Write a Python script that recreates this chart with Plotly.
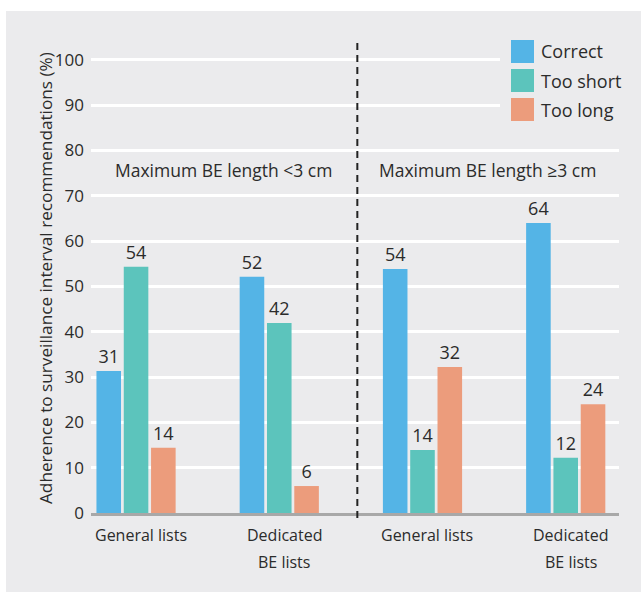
import plotly.graph_objects as go

categories = ["General lists", "Dedicated\nBE lists", "General lists", "Dedicated\nBE lists"]
series_names = ["Correct", "Too short", "Too long"]
correct = [31.3, 52.1, 53.8, 64.0]
too_short = [54.3, 41.9, 13.9, 12.2]
too_long = [14.4, 5.95, 32.2, 24.0]
value_labels = [[31, 52, 54, 64], [54, 42, 14, 12], [14, 6, 32, 24]]
panel_titles = ["Maximum BE length <3 cm", "Maximum BE length \u22653 cm"]
y_ticks = [0, 10, 20, 30, 40, 50, 60, 70, 80, 90, 100]
y_title = "Adherence to surveillance interval recommendations (%)"

colors = ["#54b4e6", "#5cc4bc", "#ec9c7c"]
panel = "#ebebed"
txt = "#2b2b2b"
FONT = "Open Sans, Noto Sans, sans-serif"

W, H = 641, 592
L, R, T, B = 91, 22, 39, 79
PW, PH = W - L - R, H - T - B


def px_x(x):
    return (x - L) / PW


def px_y(y):
    return (H - B - y) / PH


xs = list(range(len(categories)))
fig = go.Figure()
for name, vals, labs, col in zip(series_names, [correct, too_short, too_long], value_labels, colors):
    fig.add_trace(go.Bar(
        x=xs, y=vals, name=name, marker=dict(color=col, line=dict(width=0)),
        text=[str(v) for v in labs], textposition="outside", cliponaxis=False,
        textfont=dict(family=FONT, size=18, color=txt), showlegend=False,
    ))

shapes = [
    dict(type="rect", xref="paper", yref="paper", x0=px_x(6), x1=px_x(641), y0=px_y(592), y1=px_y(11),
         fillcolor=panel, line=dict(width=0), layer="below"),
    dict(type="line", xref="x", yref="paper", x0=1.545, x1=1.545, y0=px_y(518), y1=px_y(40),
         line=dict(color="#222222", width=2, dash="7px,5px"), layer="above"),
    dict(type="rect", xref="paper", yref="paper", x0=px_x(500), x1=px_x(641), y0=px_y(128), y1=px_y(20),
         fillcolor=panel, line=dict(width=0), layer="above"),
]
annotations = []
for i, (name, col) in enumerate(zip(series_names, colors)):
    top = 40 + 29 * i
    shapes.append(dict(type="rect", xref="paper", yref="paper", x0=px_x(511), x1=px_x(534),
                       y0=px_y(top + 23), y1=px_y(top), fillcolor=col, line=dict(width=0), layer="above"))
    annotations.append(dict(xref="paper", yref="paper", x=px_x(539), y=px_y(top + 11.5), text=name,
                            showarrow=False, xanchor="left", yanchor="middle",
                            font=dict(family=FONT, size=18, color=txt)))

for xpos, t in zip([0.25, 0.75], panel_titles):
    annotations.append(dict(xref="paper", yref="paper", x=xpos, y=px_y(170), text=t, showarrow=False,
                            xanchor="center", yanchor="middle", font=dict(family=FONT, size=17.5, color=txt)))

for i, cat in enumerate(categories):
    for j, line in enumerate(cat.split("\n")):
        annotations.append(dict(xref="x", yref="paper", x=i, y=px_y(535 + 27 * j), text=line,
                                showarrow=False, xanchor="center", yanchor="middle", xshift=5,
                                font=dict(family=FONT, size=16, color=txt)))

annotations.append(dict(xref="paper", yref="paper", x=px_x(45), y=px_y(278), text=y_title,
                        textangle=-90, showarrow=False, xanchor="center", yanchor="middle",
                        font=dict(family=FONT, size=17.2, color=txt)))

fig.update_layout(
    width=W, height=H, margin=dict(l=L, r=R, t=T, b=B, autoexpand=False),
    paper_bgcolor="white", plot_bgcolor="rgba(0,0,0,0)",
    barmode="group", bargap=0.428, bargroupgap=0.1,
    showlegend=False, shapes=shapes, annotations=annotations,
    font=dict(family=FONT, color=txt),
)
fig.update_xaxes(range=[-0.3145, 3.372], showticklabels=False, showgrid=False, zeroline=False,
                 showline=True, linecolor="#a8a8a8", linewidth=3, ticks="", fixedrange=True)
fig.update_yaxes(range=[0, PH / 4.533], tickvals=y_ticks, showgrid=True, gridcolor="white", gridwidth=2.5,
                 zeroline=False, showline=False, ticks="", ticklabelstandoff=6,
                 tickfont=dict(family=FONT, size=17, color=txt), automargin=False)

fig.write_html("out.html", config={"displayModeBar": False},
               post_script="document.body.style.margin='0';")
